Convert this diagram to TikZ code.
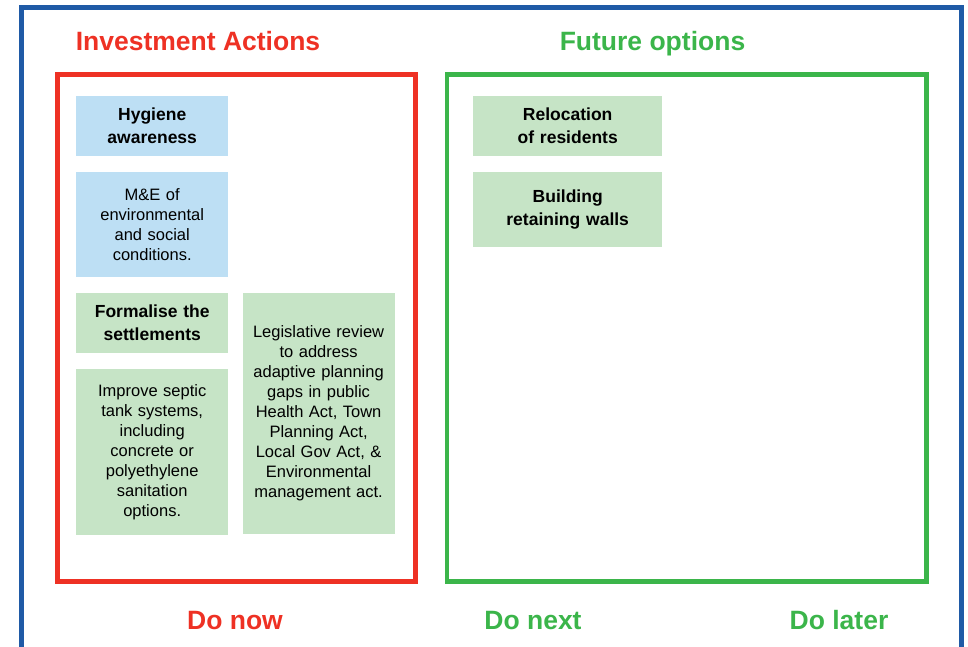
\documentclass[tikz,border=0pt]{standalone}
\usepackage{fontspec}
\setmainfont{Liberation Sans}
\usepackage{xcolor}
\usepackage{tikz}
\usetikzlibrary{positioning}

\definecolor{frameblue}{HTML}{1F5AA6}
\definecolor{actionred}{HTML}{EE3124}
\definecolor{futuregreen}{HTML}{3BB54A}
\definecolor{itemblue}{HTML}{BDDFF4}
\definecolor{itemgreen}{HTML}{C6E4C6}

\begin{document}
\begin{tikzpicture}[
        x=1pt, y=-1pt,
        % --- Style Definitions ---
        node distance=15.5pt and 14pt,
        frame_style/.style={draw=frameblue, line width=4.5pt},
        group_style/.style={line width=4.5pt},
        item_style/.style={rectangle, inner sep=0pt, minimum width=152pt, text width=146pt, align=center, anchor=north west, font=\fontsize{16.5}{20}\selectfont},
        blue_item/.style={item_style, fill=itemblue},
        green_item/.style={item_style, fill=itemgreen},
        head_item/.style={font=\fontsize{17.5}{23}\selectfont\bfseries},
        title_style/.style={anchor=base, font=\fontsize{26.5}{30}\selectfont\bfseries}
    ]

        \useasboundingbox (0,0) rectangle (968,647);

        % --- Outer frame ---
        \draw[frame_style] (21.5,7.5) rectangle (961.5,652);

        % --- Group boxes and titles ---
        \draw[group_style, draw=actionred] (57.5,74.5) rectangle (415.5,581.5);
        \draw[group_style, draw=futuregreen] (447,74.5) rectangle (926.5,581.5);

        \node[title_style, text=actionred] (invest_title) at (198,50.5) {Investment Actions};
        \node[title_style, text=futuregreen] (future_title) at (652.5,50.5) {Future options};

        % --- Investment actions ---
        \node[blue_item, head_item, minimum height=60pt] (hygiene) at (76,96) {Hygiene\\awareness};
        \node[blue_item, minimum height=105pt] (monitoring) [below=of hygiene.south west, anchor=north west] {M\&E of\\environmental\\and social\\conditions.};
        \node[green_item, head_item, minimum height=60pt] (formalise) [below=of monitoring.south west, anchor=north west] {Formalise the\\settlements};
        \node[green_item, minimum height=166pt] (septic) [below=of formalise.south west, anchor=north west] {Improve septic\\tank systems,\\including\\concrete or\\polyethylene\\sanitation\\options.};
        \node[green_item, minimum height=241pt] (legislative) [right=of formalise.north east, anchor=north west] {Legislative review\\to address\\adaptive planning\\gaps in public\\Health Act, Town\\Planning Act,\\Local Gov Act, \&\\Environmental\\management act.};

        % --- Future options ---
        \node[green_item, head_item, minimum width=189pt, text width=180pt, minimum height=60pt] (relocation) at (473,96) {Relocation\\of residents};
        \node[green_item, head_item, minimum width=189pt, text width=180pt, minimum height=75pt] (walls) [below=of relocation.south west, anchor=north west] {Building\\retaining walls};

        % --- Time labels ---
        \node[title_style, text=actionred] (do_now) at (235,629) {Do now};
        \node[title_style, text=futuregreen] (do_next) at (533,629) {Do next};
        \node[title_style, text=futuregreen] (do_later) at (839,629) {Do later};

    \end{tikzpicture}
\end{document}
